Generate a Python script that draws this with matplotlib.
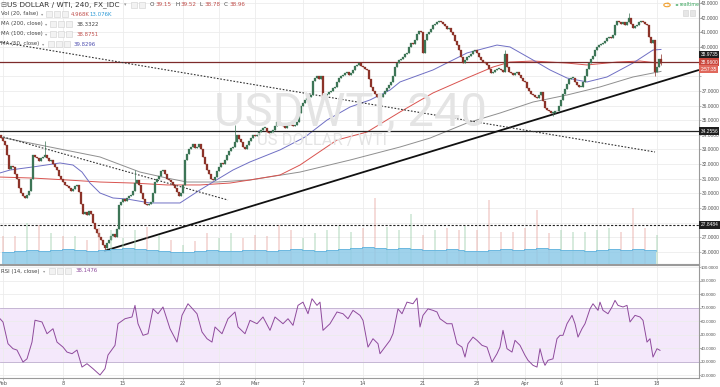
import numpy as np
import matplotlib.pyplot as plt
from matplotlib.patches import Rectangle, Circle
from matplotlib.transforms import blended_transform_factory

# =========================================================
# Data (240-minute bars)
# =========================================================

closes = [
    33.8, 33.6, 33.3, 32.6, 31.7, 31.9, 31.8, 31.3, 31.0, 30.4,
    30.0, 29.8, 29.7, 29.9, 30.2, 31.0, 32.6, 32.5, 32.4, 32.2,
    32.4, 32.5, 32.6, 32.4, 32.2, 32.3, 32.0, 31.8, 31.6, 31.2,
    31.0, 30.8, 30.6, 30.5, 30.4, 30.2, 30.3, 30.5, 30.6, 30.1,
    29.3, 28.6, 28.7, 28.5, 28.8, 28.6, 28.0, 27.6, 27.3, 27.0,
    26.8, 26.5, 26.3, 26.6, 26.8, 27.1, 27.2, 27.0, 27.6, 29.2,
    29.4, 29.6, 29.5, 29.7, 29.8, 29.9, 30.2, 30.7, 30.9, 30.6,
    30.0, 29.6, 29.3, 29.2, 29.3, 29.4, 30.0, 30.8, 31.0, 31.2,
    31.5, 31.6, 31.3, 31.0, 30.9, 30.8, 30.6, 30.4, 30.1, 29.8,
    30.0, 30.6, 32.3, 32.7, 33.0, 33.2, 33.4, 33.1, 33.2, 33.4,
    33.0, 32.5, 32.0, 31.6, 31.3, 31.0, 30.9, 31.1, 31.5, 31.8,
    32.1, 32.0, 32.3, 32.6, 32.9, 33.1, 33.2, 33.5, 34.0, 33.7,
    33.5, 33.2, 33.0, 33.3, 33.6, 33.8, 34.0, 33.9, 34.0, 34.2,
    34.3, 34.5, 34.5, 34.2, 34.1, 34.2, 34.3, 34.6, 34.9, 34.8,
    34.7, 34.6, 34.5, 34.7, 34.8, 34.7, 34.6, 34.7, 34.9, 35.5,
    36.0, 36.2, 36.4, 36.5, 36.6, 36.7, 37.7, 37.9, 38.0, 37.8,
    38.0, 36.5, 36.7, 36.8, 36.9, 37.0, 37.2, 37.3, 37.6, 37.9,
    38.0, 38.1, 38.2, 38.3, 38.1, 38.2, 38.4, 38.7, 38.8, 38.9,
    38.7, 38.6, 38.5, 38.4, 37.8, 37.3, 37.0, 36.8, 36.6, 36.5,
    36.6, 36.8, 37.0, 37.2, 37.4, 37.6, 38.0, 38.6, 38.9, 39.1,
    39.2, 39.3, 39.5, 39.6, 40.0, 40.3, 40.2, 40.5, 40.9, 41.1,
    41.0, 39.6, 40.5, 40.9, 41.0, 41.2, 41.5, 41.6, 41.7, 41.8,
    41.7, 41.6, 41.4, 41.2, 41.3, 41.0, 40.8, 40.4, 40.1, 39.8,
    39.3, 38.9, 39.1, 39.3, 39.4, 39.5, 39.7, 39.8, 39.6, 39.3,
    39.1, 39.0, 38.9, 38.8, 38.5, 38.2, 38.3, 38.4, 38.5, 38.5,
    38.4, 38.3, 39.5, 38.6, 38.3, 38.2, 38.1, 38.2, 38.3, 38.1,
    37.9, 37.7, 37.6, 37.2, 37.0, 36.8, 36.7, 36.6, 36.5, 36.7,
    36.9, 36.3, 35.8, 35.7, 35.6, 35.5, 35.5, 35.6, 35.6, 36.0,
    36.4, 36.8, 37.1, 37.5, 37.8, 37.9, 37.9, 37.6, 37.4, 37.3,
    37.3, 37.6, 38.0, 38.5, 38.9, 39.2, 39.4, 39.8, 40.0, 40.1,
    40.2, 40.3, 40.4, 40.6, 40.7, 40.6, 40.8, 41.5, 41.8, 41.7,
    41.6, 41.7, 41.5, 41.7, 42.0, 41.6, 41.3, 41.4, 41.5, 41.7,
    41.8, 41.7, 41.6, 41.5, 40.7, 40.3, 40.5, 38.3, 38.6, 39.15, 38.96,
]
first_open = 34.0
wick_high = {22: 33.6, 67: 31.6, 117: 34.7, 252: 39.8, 314: 42.3, 330: 39.52}
wick_low = {52: 26.05, 276: 35.3, 327: 38.0, 330: 38.78}

# moving averages (bar index, price)
ma50_x = [0, 5, 16.5, 30, 36.5, 41, 45, 50, 56.5, 63.5, 75, 90, 100, 106.5, 116.5, 125,
          140, 152.5, 163.5, 175, 185, 195, 200, 216.5, 233.5, 248.5, 255, 266.5, 275,
          283.5, 293.5, 303.5, 316.5, 326.5, 330.5]
ma50_y = [31.40, 31.60, 31.81, 32.08, 31.94, 31.46, 30.71, 30.03, 29.69, 29.62, 29.35, 29.35,
          30.24, 30.78, 31.60, 32.15, 32.97, 33.85, 35.01, 35.90, 36.38, 37.06, 37.61, 38.43,
          39.59, 40.13, 40.00, 39.11, 38.43, 37.88, 37.61, 37.95, 38.90, 39.79, 39.83]
ma100_x = [0, 16.5, 33.5, 50, 66.5, 83.5, 100, 115, 125, 140, 150, 168.5, 183.5, 200,
           216.5, 233.5, 246.5, 255, 266.5, 283.5, 293.5, 308.5, 320, 330.5]
ma100_y = [31.12, 31.05, 30.92, 30.78, 30.71, 30.58, 30.58, 30.71, 30.92, 31.26, 31.94, 33.65,
           34.19, 35.56, 36.86, 37.88, 38.63, 38.97, 39.04, 38.90, 38.77, 38.97, 39.04, 38.88]
ma200_x = [0, 25, 50, 70, 83.5, 93.5, 108.5, 125, 150, 175, 200, 215, 233.5, 250, 266.5,
           283.5, 300, 316.5, 330.5]
ma200_y = [33.85, 33.17, 32.49, 31.46, 31.05, 30.78, 30.78, 30.92, 31.46, 32.28, 33.17, 33.78,
           34.81, 35.49, 36.24, 36.72, 37.27, 37.95, 38.33]

# RSI(14) (bar index, value)
rsi_x = [0, 1.5, 4, 6.5, 8.5, 11.5, 13.5, 16, 17.5, 21, 23.5, 26.5, 28.5, 31.5, 33.5, 36,
         38.5, 41, 43.5, 46.5, 50, 52.5, 54, 57.5, 59, 62.5, 66, 67.5, 69, 71.5, 74, 76.5,
         79, 81.5, 85, 88.5, 91, 94, 98.5, 101, 103.5, 106, 107.5, 111, 114, 117.5, 119,
         122.5, 125, 128.5, 131.5, 135, 137.5, 141.5, 144, 146.5, 149, 151.5, 154, 156,
         158.5, 160, 161.5, 165, 168.5, 171.5, 174, 176.5, 180, 181.5, 184, 186.5, 189, 190,
         192.5, 195, 196.5, 199, 201, 203.5, 206.5, 208.5, 210, 211.5, 214, 216.5, 218.5,
         220, 223.5, 226, 228.5, 231, 232.5, 234, 236.5, 238.5, 241, 243.5, 246, 248.5, 250,
         251.5, 253.5, 256, 257.5, 260, 262.5, 264, 266.5, 268.5, 270, 271.5, 272.5, 274,
         276.5, 278.5, 280, 281.5, 283.5, 286, 287.5, 289, 291, 292.5, 295, 296.5, 299, 300,
         301.5, 304, 306, 307.5, 309, 311.5, 313.5, 315, 317.5, 320, 321.5, 323.5, 325,
         326.5, 328.5, 330]
rsi_y = [61.7, 59.3, 43.2, 39.5, 38.5, 29.6, 32.0, 44.4, 60.6, 59.3, 50.6, 54.3, 44.4, 40.7,
         37.0, 35.8, 38.5, 25.9, 28.4, 24.7, 20.0, 24.7, 34.8, 42.0, 58.0, 61.7, 63.0, 71.6,
         58.0, 49.4, 50.6, 69.0, 65.4, 70.4, 54.3, 44.4, 64.2, 72.8, 65.4, 51.9, 46.9, 44.4,
         55.6, 50.6, 61.7, 66.7, 55.6, 50.6, 60.5, 58.0, 63.0, 53.1, 63.0, 58.0, 61.7, 56.8,
         71.6, 74.0, 65.4, 76.5, 71.6, 74.0, 53.1, 58.0, 66.7, 65.4, 61.7, 67.9, 64.2, 60.5,
         40.7, 46.9, 43.2, 35.8, 40.7, 45.7, 50.6, 69.0, 65.4, 74.0, 72.8, 77.0, 55.6, 64.2,
         69.0, 67.9, 66.7, 61.7, 58.0, 58.0, 43.2, 40.7, 33.3, 43.2, 48.1, 45.7, 42.0, 40.7,
         29.6, 35.8, 40.7, 53.1, 39.5, 37.0, 45.7, 42.0, 34.6, 30.9, 27.2, 25.9, 39.5, 30.9,
         27.2, 30.9, 32.0, 46.9, 49.4, 49.4, 58.0, 64.2, 58.0, 48.1, 54.3, 58.0, 69.0, 72.8,
         67.9, 74.0, 67.9, 65.4, 70.4, 75.3, 71.6, 70.4, 71.6, 59.3, 64.2, 63.0, 60.5, 44.4,
         46.9, 33.3, 39.5, 38.3]

# volume (thousands), one spike per trading day, and its 20-period MA
vol_day = [28, 28, 41, 39, 31, 28, 28, 24, 36, 34, 26, 34, 37, 29, 24, 19, 23, 31, 26, 31,
           26, 29, 28, 39, 34, 26, 31, 34, 38, 32, 36, 66, 37, 34, 50, 29, 34, 36, 34, 38,
           34, 64, 32, 32, 36, 54, 31, 34, 32, 32, 34, 36, 32, 56, 36, 29]
vol_ma = [12, 13, 14, 13, 14, 15, 14, 13, 14, 15, 16, 15, 14, 13, 12, 12, 13, 14, 13, 13,
          14, 14, 13, 14, 15, 14, 13, 14, 15, 16, 17, 16, 15, 16, 15, 14, 14, 15, 14, 13,
          13, 14, 15, 14, 15, 16, 15, 14, 14, 13, 14, 15, 14, 15, 14, 13]

# drawn lines
support_levels = [34.2556, 27.8484]
last_price = 38.96
trend_up = ([52, 349.5], [26.07, 38.43])
trend_down_long = ([0, 327.5], [40.34, 32.83])
trend_down_short = ([0, 114], [33.92, 29.55])

# calendar: trading-day index of each date label (Good Friday is a short day)
tick_days = [0, 5, 10, 15, 18, 21, 25, 30, 35, 40, 44, 47, 50, 55]
tick_text = ['Feb', '8', '15', '22', '25', 'Mar', '7', '14', '21', '28', 'Apr', '6', '11', '18']
bars_per_day = 6
short_day = 39

# =========================================================
# Figure
# =========================================================
W, H = 720, 387
fig = plt.figure(figsize=(7.2, 3.87), dpi=100)
fig.patch.set_facecolor('white')


def fx(x):
    return x / W


def fy(y):
    return 1 - y / H


ax = fig.add_axes([0, fy(264), 699 / W, 264 / H])
rsi = fig.add_axes([0, fy(378), 699 / W, 113 / H], sharex=ax)
vax = ax.twinx()

day_start = np.arange(len(vol_day)) * bars_per_day + 1
day_start[short_day:] -= 3
tick_pos = day_start[tick_days] + 0.5

GRID = '#ececec'
AXC = '#9a9a9a'
TXT = '#555555'
TS = 3.3
AXFONT = 'Liberation Sans'

# ---- candles ----
c = np.array(closes)
o = np.r_[first_open, c[:-1]]
hi = np.maximum(o, c)
lo = np.minimum(o, c)
for k, v in wick_high.items():
    hi[k] = max(hi[k], v)
for k, v in wick_low.items():
    lo[k] = min(lo[k], v)
xs = np.arange(len(c)) + 0.5
up = c >= o
cols = np.where(up, '#3d7556', '#8c3329')
ax.vlines(xs, lo, hi, colors=cols, lw=0.5, zorder=5)
body = np.maximum(np.abs(c - o), 0.04)
ax.bar(xs, body, bottom=np.minimum(o, c), width=0.8, color=cols,
       edgecolor=cols, lw=0.2, zorder=5)

# ---- moving averages ----
ax.plot(ma200_x, ma200_y, color='#8f8f8f', lw=0.7, zorder=3)
ax.plot(ma100_x, ma100_y, color='#d9534f', lw=0.7, zorder=3)
ax.plot(ma50_x, ma50_y, color='#6f6fc4', lw=0.7, zorder=3)

# ---- drawn lines ----
ax.axhline(support_levels[0], color='#222222', lw=0.9, zorder=4)
ax.axhline(support_levels[1], color='#222222', lw=0.8, ls=(0, (2, 1.5)), zorder=4)
ax.axhline(last_price, color='#7d2b2b', lw=0.9, zorder=4)
ax.plot(*trend_up, color='#111111', lw=1.3, zorder=4, solid_capstyle='butt')
ax.plot(*trend_down_long, color='#333333', lw=0.8, ls=(0, (1.5, 1.5)), zorder=4)
ax.plot(*trend_down_short, color='#333333', lw=0.8, ls=(0, (1.5, 1.5)), zorder=4)

# ---- volume ----
vax.set_ylim(0, 264)
vax.axis('off')
steps = np.r_[day_start, len(c)]
vax.fill_between(steps[:-1], vol_ma, step='post', color='#8ecae8', alpha=0.85, lw=0, zorder=1)
vax.step(steps[:-1], vol_ma, where='post', color='#5aafdc', lw=0.5, zorder=1)
vcol = np.where(up[day_start], '#9ccfaa', '#e6a7a0')
vax.bar(day_start + 0.5, vol_day, width=1.2, color=vcol, alpha=0.4, lw=0, zorder=0)

# ---- price axis ----
ax.set_xlim(0, 349.5)
ax.set_ylim(25.184, 43.205)
ax.set_xticks(tick_pos)
ax.tick_params(axis='x', length=0, labelbottom=False)
ax.yaxis.tick_right()
pticks = np.arange(26, 44)
ax.set_yticks(pticks)
ax.set_yticklabels(['' if t in (28, 38, 39) else f'{t:.4f}' for t in pticks],
                   family=AXFONT)
ax.tick_params(axis='y', length=1.3, width=0.5, color=AXC, labelsize=3.5, labelcolor=TXT, pad=0.4)
ax.grid(True, color=GRID, lw=0.6, zorder=0)
ax.set_axisbelow(True)
for s in ['top', 'left']:
    ax.spines[s].set_visible(False)
ax.spines['right'].set_color(AXC)
ax.spines['bottom'].set_color(AXC)
ax.spines['right'].set_linewidth(0.8)
ax.spines['bottom'].set_linewidth(0.8)

# ---- RSI ----
rsi.axhspan(30, 70, color='#f4e8fb', lw=0, zorder=0)
rsi.axhline(70, color='#bfaed0', lw=0.6, zorder=1)
rsi.axhline(30, color='#bfaed0', lw=0.6, zorder=1)
rsi.plot(rsi_x, rsi_y, color='#8e4a9c', lw=0.7, zorder=3)
rsi.set_ylim(17.8, 101.5)
rticks = np.arange(20, 101, 10)
rsi.set_yticks(rticks)
rsi.set_yticklabels([f'{t:.4f}' for t in rticks], family=AXFONT)
rsi.yaxis.tick_right()
rsi.tick_params(axis='y', length=1.2, width=0.5, color=AXC, labelsize=3.2, labelcolor=TXT, pad=0.3)
rsi.set_xticks(tick_pos)
rsi.set_xticklabels(tick_text)
rsi.tick_params(axis='x', length=1.5, width=0.5, color=AXC, labelsize=3.6, labelcolor=TXT, pad=0.5)
rsi.grid(True, color=GRID, lw=0.6, zorder=0)
rsi.set_axisbelow(True)
rsi.spines['left'].set_visible(False)
for s in ['top', 'right', 'bottom']:
    rsi.spines[s].set_color(AXC)
    rsi.spines[s].set_linewidth(0.8)

# ---- right-axis value tags ----
tag = blended_transform_factory(ax.transAxes, ax.transData)


def price_tag(val, text, fc, dy=0):
    ax.annotate(text, xy=(1, val), xycoords=tag, xytext=(1.1, dy), textcoords='offset points',
                fontsize=3.5, family=AXFONT, color='white', va='center', ha='left',
                annotation_clip=False,
                bbox=dict(boxstyle='square,pad=0.25', fc=fc, ec='none'), zorder=10)


price_tag(38.9735, '38.9735', '#1e1e1e', dy=5.5)
price_tag(last_price, '38.9600', '#c9473d')
price_tag(last_price, '2:57:35', '#e0685c', dy=-5.0)
price_tag(support_levels[0], '34.2556', '#1e1e1e')
price_tag(support_levels[1], '27.8484', '#1e1e1e')

# ---- watermark ----
fig.text(fx(350), fy(112), 'USDWTI, 240', fontsize=34, color='#e4e4e4', ha='center',
         va='center', family='Roboto', zorder=0)
fig.text(fx(322), fy(140), 'US DOLLAR / WTI', fontsize=12, color='#e4e4e4', ha='center',
         va='center', family='Roboto', zorder=0)

# ---- legend ----
RED = '#c0504d'


def box(x, y, n):
    for i in range(n):
        fig.add_artist(Rectangle((fx(x + i * 8), fy(y + 3)), 6 / W, 6 / H, fc='#f2f2f2',
                                 ec='#cfcfcf', lw=0.4, transform=fig.transFigure))


def label(x, y, s, size=4.1, color='#444444'):
    fig.text(fx(x), fy(y), s, fontsize=size, color=color, va='center', ha='left')


label(0, 5, '⊟', size=5.2, color='#666666')
label(7, 5, 'US DOLLAR / WTI, 240, FX_IDC', size=5.3, color='#333333')
label(124, 5, '▾', size=3.5, color='#999999')
box(131, 5, 2)
label(150, 5, 'O', size=4.1)
label(156, 5, '39.15', size=4.1, color=RED)
label(175, 5, 'H', size=4.1)
label(181, 5, '39.52', size=4.1, color=RED)
label(200, 5, 'L', size=4.1)
label(205, 5, '38.78', size=4.1, color=RED)
label(224, 5, 'C', size=4.1)
label(230, 5, '38.96', size=4.1, color=RED)

label(1, 14, 'Vol (20, false)', size=3.9)
label(41, 14, '▾', size=3.2, color='#999999')
box(46, 14, 3)
label(71, 14, '4.968K', size=3.9, color=RED)
label(89, 14, '13.076K', size=3.9, color='#2e9ad6')

label(1, 24, 'MA (200, close)', size=3.9)
label(45, 24, '▾', size=3.2, color='#999999')
box(50, 24, 3)
label(77, 24, '38.3322', size=3.9, color='#444444')

label(1, 34, 'MA (100, close)', size=3.9)
label(45, 34, '▾', size=3.2, color='#999999')
box(50, 34, 3)
label(77, 34, '38.8751', size=3.9, color=RED)

label(1, 44, 'MA (50, close)', size=3.9)
label(42, 44, '▾', size=3.2, color='#999999')
box(48, 44, 3)
label(74, 44, '39.8296', size=3.9, color='#5050b0')

label(1, 271, 'RSI (14, close)', size=3.9)
label(43, 271, '▾', size=3.2, color='#999999')
box(49, 271, 3)
label(76, 271, '38.1476', size=3.9, color='#8e4a9c')

# realtime badge
fig.add_artist(Circle((fx(667), fy(5)), 3.2 / W, transform=fig.transFigure, fc='white',
                      ec='#f0a030', lw=0.8))
fig.text(fx(667), fy(5), '!', fontsize=3.5, color='#f0a030', ha='center', va='center')
fig.add_artist(Circle((fx(677), fy(5)), 1.4 / W, transform=fig.transFigure, fc='#3aa55d',
                      ec='none'))
label(680, 5, 'realtime', size=3.4, color='#3aa55d')
fig.add_artist(Rectangle((fx(683), fy(16)), 5 / W, 6 / H, fc='#e6e6e6', ec='#d0d0d0', lw=0.4,
                         transform=fig.transFigure))
fig.add_artist(Rectangle((fx(690), fy(16)), 5 / W, 6 / H, fc='#e6e6e6', ec='#d0d0d0', lw=0.4,
                         transform=fig.transFigure))

fig.savefig('out.png', dpi=100)
